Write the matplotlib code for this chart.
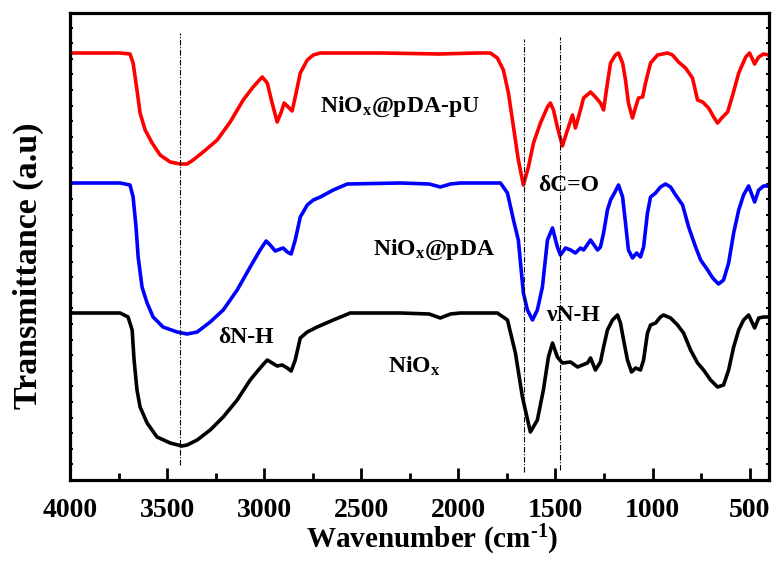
import matplotlib
matplotlib.use("Agg")
import matplotlib.pyplot as plt
from matplotlib.ticker import MultipleLocator

plt.rcParams['font.family'] = ['Liberation Serif', 'DejaVu Serif']
plt.rcParams['font.weight'] = 'bold'
plt.rcParams['mathtext.fontset'] = 'custom'
plt.rcParams['mathtext.rm'] = 'Liberation Serif:bold'
plt.rcParams['mathtext.it'] = 'Liberation Serif:bold'
plt.rcParams['mathtext.bf'] = 'Liberation Serif:bold'

# ---- data (wavenumber cm-1, transmittance a.u. incl. vertical offset) ----
wn_pu = [4000, 3850, 3742, 3691, 3675, 3655, 3639, 3613, 3577, 3536, 3484, 3433, 3397, 3366,
         3314, 3242, 3175, 3108, 3057, 3010, 2984, 2959, 2933, 2912, 2897, 2876, 2856, 2840,
         2814, 2778, 2747, 2711, 2608, 2400, 2100, 1900, 1835, 1799, 1768, 1742, 1716, 1691,
         1665, 1639, 1613, 1577, 1541, 1526, 1510, 1490, 1464, 1438, 1412, 1397, 1371, 1355,
         1319, 1294, 1268, 1252, 1232, 1216, 1191, 1175, 1154, 1139, 1124, 1103, 1087, 1072,
         1051, 1036, 1010, 974, 922, 897, 866, 830, 794, 768, 742, 711, 685, 665, 639, 613,
         587, 556, 520, 500, 474, 453, 428, 402]
t_pu = [427, 427, 427, 426, 417, 390, 367, 350, 337, 325, 318, 316, 316, 320,
        328, 340, 358, 380, 393, 403, 397, 377, 358, 368, 377, 373, 369, 383,
        407, 420, 425, 427, 427, 427, 426, 427, 427, 422, 410, 387, 353, 320,
        295, 313, 337, 357, 373, 377, 370, 353, 334, 350, 365, 352, 370, 382,
        388, 383, 377, 370, 397, 417, 425, 427, 417, 400, 377, 362, 373, 382,
        383, 397, 417, 425, 427, 425, 418, 412, 402, 380, 378, 372, 363, 357, 363, 368,
        385, 407, 423, 427, 416, 423, 426, 425]

wn_pda = [4000, 3850, 3742, 3691, 3675, 3660, 3649, 3629, 3603, 3572, 3521, 3448, 3397, 3345,
          3278, 3211, 3139, 3072, 3021, 2990, 2969, 2943, 2917, 2902, 2881, 2861, 2840, 2814,
          2778, 2747, 2711, 2644, 2572, 2299, 2150, 2093, 2040, 1990, 1783, 1747, 1716, 1691,
          1665, 1644, 1618, 1593, 1567, 1541, 1515, 1490, 1474, 1448, 1422, 1397, 1371, 1355,
          1319, 1283, 1268, 1252, 1232, 1216, 1196, 1175, 1154, 1139, 1124, 1103, 1082, 1062,
          1046, 1026, 1010, 984, 959, 933, 907, 881, 845, 814, 778, 752, 716, 690, 660, 634,
          608, 582, 556, 531, 505, 474, 453, 428, 402]
t_pda = [297, 297, 297, 295, 283, 253, 223, 193, 177, 163, 153, 148, 146, 148,
         158, 170, 190, 213, 230, 239, 235, 229, 231, 232, 228, 226, 240, 263,
         275, 280, 283, 290, 296, 297, 296, 293, 296, 297, 297, 287, 260, 240,
         187, 170, 160, 170, 193, 240, 252, 233, 225, 232, 230, 227, 232, 230,
         240, 230, 233, 247, 270, 280, 287, 295, 283, 257, 230, 222, 227, 223,
         233, 267, 283, 287, 293, 296, 293, 285, 275, 253, 233, 220, 210, 202, 196, 200,
         217, 247, 270, 285, 294, 278, 290, 294, 294]

wn_niox = [4000, 3850, 3742, 3701, 3680, 3670, 3655, 3639, 3603, 3552, 3484, 3423, 3397, 3345,
           3278, 3211, 3139, 3072, 3021, 2984, 2959, 2933, 2907, 2881, 2861, 2840, 2814, 2778,
           2727, 2644, 2557, 2299, 2150, 2093, 2040, 1990, 1799, 1747, 1706, 1670, 1629, 1593,
           1562, 1536, 1515, 1490, 1464, 1422, 1386, 1361, 1335, 1319, 1294, 1268, 1252, 1232,
           1206, 1180, 1165, 1149, 1129, 1108, 1087, 1062, 1046, 1026, 1010, 984, 959, 943,
           907, 871, 840, 804, 768, 737, 701, 665, 634, 608, 582, 556, 531, 505, 474, 453,
           428, 402]
t_niox = [167, 167, 167, 163, 150, 120, 90, 73, 57, 43, 37, 34, 35, 40,
          50, 63, 80, 100, 112, 120, 117, 114, 115, 112, 109, 120, 142, 148,
          153, 160, 167, 167, 166, 162, 166, 167, 167, 160, 127, 83, 48, 60,
          90, 123, 137, 123, 117, 118, 113, 115, 117, 122, 110, 118, 133, 150,
          160, 165, 157, 140, 120, 108, 112, 110, 120, 147, 155, 157, 163, 165,
          162, 155, 147, 130, 117, 110, 100, 93, 95, 110, 133, 150, 160, 165, 152, 162,
          163, 163]

marker_wn = [3433, 1660, 1474]
marker_lo = [15, 8, 10]
marker_hi = [447, 441, 443]

xticks = [4000, 3500, 3000, 2500, 2000, 1500, 1000, 500]

labels = [r'NiO$_{x}$@pDA-pU', r'NiO$_{x}$@pDA', r'NiO$_{x}$',
          'δN-H', 'νN-H', 'δC=O']
label_wn = [2711, 2438, 2361, 3237, 1541, 1587]
label_t = [368, 225, 107, 137, 159, 289]

# ---- figure ----
fig = plt.figure(figsize=(7.76, 5.71), dpi=100)
ax = fig.add_axes([70/776, (571-480)/571, 699/776, 467/571])

ax.plot(wn_pu, t_pu, color='#ff0000', lw=2.6, solid_joinstyle='round')
ax.plot(wn_pda, t_pda, color='#0000ff', lw=2.6, solid_joinstyle='round')
ax.plot(wn_niox, t_niox, color='#000000', lw=2.6, solid_joinstyle='round')

for w, lo, hi in zip(marker_wn, marker_lo, marker_hi):
    ax.plot([w, w], [lo, hi], color='black', lw=0.8, ls=(0, (5, 1.5, 1, 1.5)))

for s, w, t in zip(labels, label_wn, label_t):
    ax.text(w, t, s, fontsize=17, fontweight='bold', ha='left', va='baseline')

ax.set_xlim(4000, 400)
ax.set_ylim(0, 467)
ax.set_xticks(xticks)
ax.set_xticklabels([str(v) for v in xticks])
ax.xaxis.set_minor_locator(MultipleLocator(250))
ax.tick_params(axis='x', which='major', direction='in', length=9, width=2,
               labelsize=20, pad=13, top=False)
ax.tick_params(axis='x', which='minor', direction='in', length=5, width=2, top=False)
ax.yaxis.set_major_locator(MultipleLocator(15.6))
ax.tick_params(axis='y', which='major', direction='in', length=2.5, width=1.5,
               left=True, right=True, labelleft=False)
for sp in ax.spines.values():
    sp.set_linewidth(2.3)

ax.set_xlabel(r'Wavenumber (cm$^{\text{-}1}$)', fontsize=21, fontweight='bold')
ax.set_ylabel('Transmittance (a.u)', fontsize=24.5, fontweight='bold')
ax.xaxis.set_label_coords((432 - 70) / 699, (480 - 523) / 467)
ax.yaxis.set_label_coords((44 - 70) / 699, (480 - 266) / 467)

fig.savefig('out.png', dpi=100)
